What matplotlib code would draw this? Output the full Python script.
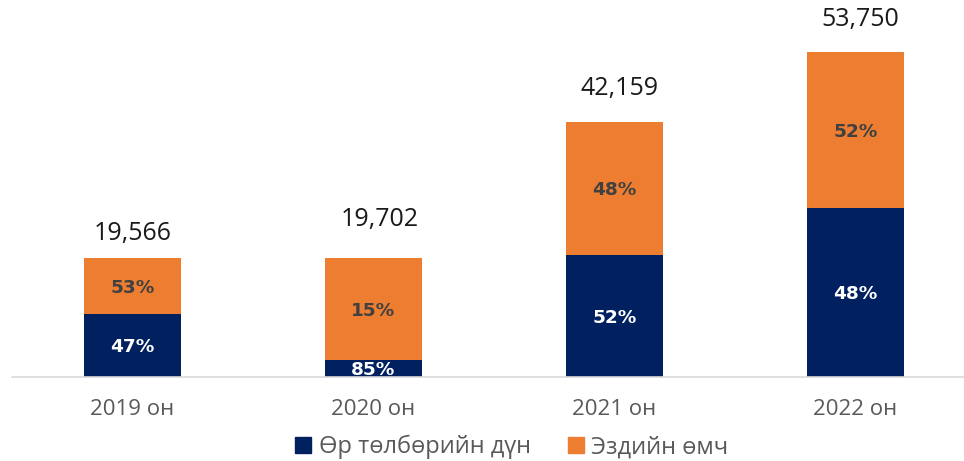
import matplotlib
matplotlib.use("Agg")
import matplotlib.pyplot as plt
from matplotlib.patches import Patch

plt.rcParams['font.family'] = ['Open Sans', 'DejaVu Sans']

# data
years = ["2019 он", "2020 он", "2021 он", "2022 он"]
totals = [19566, 19702, 42159, 53750]
debt = [10300, 2700, 20100, 27950]          # blue (bottom) segment
equity = [t - d for t, d in zip(totals, debt)]  # orange (top) segment
debt_labels = ["47%", "85%", "52%", "48%"]
equity_labels = ["53%", "15%", "48%", "52%"]

navy = "#002060"
orange = "#ED7D31"

fig = plt.figure(figsize=(9.64, 4.61), dpi=100)
ax = fig.add_axes([12 / 964, 84.5 / 461, 952 / 964, 376.5 / 461])

x = list(range(len(years)))
w = 0.4
ax.bar(x, debt, w, color=navy, zorder=2)
ax.bar(x, equity, w, bottom=debt, color=orange, zorder=2)

for i in x:
    ax.text(i, debt[i] / 2 - 300, debt_labels[i], ha="center", va="center",
            color="white", fontsize=13.3, fontweight="bold",
            family="DejaVu Sans", zorder=3)
    ax.text(i, debt[i] + equity[i] / 2 - 300, equity_labels[i], ha="center", va="center",
            color="#404040", fontsize=13.3, fontweight="bold",
            family="DejaVu Sans", zorder=3)

# total labels above bars (offsets in pixels, as in the original)
total_offsets = [(0, 25), (6, 38), (5, 34), (5, 33)]
for i in x:
    ax.annotate(f"{totals[i]:,}", xy=(i, totals[i]), xytext=total_offsets[i],
                textcoords="offset pixels", ha="center", va="center",
                fontsize=18, color="#1a1a1a")

ax.set_xlim(-0.5, 3.45)
ax.set_ylim(0, 62400)
ax.set_yticks([])
ax.set_xticks(x)
ax.set_xticklabels(years, fontsize=16, color="#595959")
ax.tick_params(axis="x", length=0, pad=16)
for s in ["top", "left", "right"]:
    ax.spines[s].set_visible(False)
ax.spines["bottom"].set_color("#D9D9D9")
ax.spines["bottom"].set_linewidth(1.2)
ax.patch.set_alpha(0)

handles = [Patch(color=navy, label="Өр төлбөрийн дүн"),
           Patch(color=orange, label="Эздийн өмч")]
fig.legend(handles=handles, loc="center", bbox_to_anchor=(512 / 964, 1 - 447 / 461),
           ncol=2, frameon=False, fontsize=17, handlelength=0.68, handleheight=0.68,
           handletextpad=0.3, columnspacing=1.6, labelcolor="#595959")

fig.savefig("out.png", dpi=100)
